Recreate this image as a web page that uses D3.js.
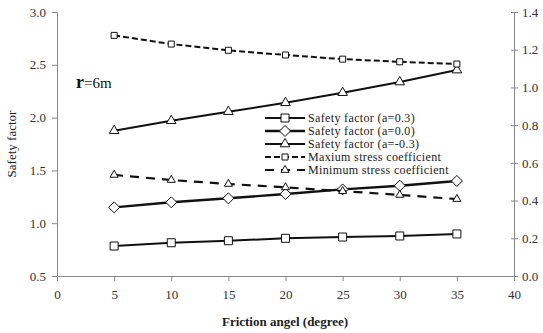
<!DOCTYPE html>
<html>
<head>
<meta charset="utf-8">
<script src="https://cdn.jsdelivr.net/npm/d3@7"></script>
<style>
  body { margin: 0; background: #fff; }
  svg text { font-family: "Liberation Serif", "DejaVu Serif", serif; }
</style>
</head>
<body>
<div id="chart"></div>
<script>
// friction angle (degree)
const angles = [5, 10, 15, 20, 25, 30, 35];

// safety factors (left axis)
const sfPos = [0.784, 0.815, 0.834, 0.857, 0.869, 0.879, 0.898];
const sfZero = [1.150, 1.198, 1.236, 1.277, 1.320, 1.355, 1.400];
const sfNeg = [1.876, 1.970, 2.056, 2.140, 2.236, 2.337, 2.450];

// stress coefficients (right axis)
const maxStress = [1.276, 1.230, 1.197, 1.172, 1.150, 1.136, 1.124];
const minStress = [0.536, 0.509, 0.488, 0.470, 0.450, 0.430, 0.408];

const xTicks = [0, 5, 10, 15, 20, 25, 30, 35, 40];
const yLeftTicks = [0.5, 1.0, 1.5, 2.0, 2.5, 3.0];
const yRightTicks = [0, 0.2, 0.4, 0.6, 0.8, 1.0, 1.2, 1.4];

const width = 543, height = 333;
const margin = { top: 12, right: 29, bottom: 57, left: 57 };

const svg = d3.select("#chart").append("svg")
  .attr("width", width)
  .attr("height", height);

const x = d3.scaleLinear().domain([0, 40]).range([margin.left, width - margin.right]);
const yL = d3.scaleLinear().domain([0.5, 3.0]).range([height - margin.bottom, margin.top]);
const yR = d3.scaleLinear().domain([0, 1.4]).range([height - margin.bottom, margin.top]);

const axisColor = "#888";

// axes
const gx = svg.append("g")
  .attr("transform", `translate(0,${height - margin.bottom})`)
  .call(d3.axisBottom(x).tickValues(xTicks).tickSize(5).tickPadding(9).tickFormat(d3.format("d")));
const gl = svg.append("g")
  .attr("transform", `translate(${margin.left},0)`)
  .call(d3.axisLeft(yL).tickValues(yLeftTicks).tickSize(5).tickPadding(6).tickFormat(d3.format(".1f")));
const gr = svg.append("g")
  .attr("transform", `translate(${width - margin.right},0)`)
  .call(d3.axisRight(yR).tickValues(yRightTicks).tickSize(4).tickPadding(4).tickFormat(d3.format(".1f")));

[gx, gl, gr].forEach(g => {
  g.select(".domain").attr("stroke", axisColor);
  g.selectAll(".tick line").attr("stroke", axisColor);
  g.selectAll(".tick text")
    .attr("fill", "#333")
    .style("font-family", "'Liberation Serif', serif")
    .style("font-size", "13px");
});
gr.selectAll(".tick line").attr("x1", -3);

// series definitions
const series = [
  { name: "Safety factor (a=0.3)", values: sfPos, y: yL, marker: "square", dash: null, width: 2 },
  { name: "Safety factor (a=0.0)", values: sfZero, y: yL, marker: "diamond", dash: null, width: 2.4 },
  { name: "Safety factor (a=-0.3)", values: sfNeg, y: yL, marker: "triangle", dash: null, width: 2 },
  { name: "Maxium stress coefficient", values: maxStress, y: yR, marker: "square", dash: "6,3", width: 2 },
  { name: "Minimum stress coefficient", values: minStress, y: yR, marker: "triangle", dash: "9,7", width: 2.2 }
];

// rhombus with equal diagonals, like the spreadsheet marker
const rhombus = r => `M0,${-r}L${r},0L0,${r}L${-r},0Z`;

const symbolOf = {
  square: d3.symbol().type(d3.symbolSquare).size(64),
  diamond: () => rhombus(5.5),
  triangle: d3.symbol().type(d3.symbolTriangle).size(40)
};
const smallSymbol = {
  square: d3.symbol().type(d3.symbolSquare).size(36),
  triangle: d3.symbol().type(d3.symbolTriangle).size(28)
};

series.forEach((s, si) => {
  const line = d3.line()
    .x((d, i) => x(angles[i]))
    .y(d => s.y(d));

  svg.append("path")
    .datum(s.values)
    .attr("fill", "none")
    .attr("stroke", "#111")
    .attr("stroke-width", s.width)
    .attr("stroke-dasharray", s.dash)
    .attr("d", line);

  const sym = (si >= 3) ? smallSymbol[s.marker] : symbolOf[s.marker];
  svg.append("g").selectAll("path")
    .data(s.values)
    .join("path")
    .attr("transform", (d, i) => `translate(${x(angles[i])},${s.y(d)})`)
    .attr("d", sym)
    .attr("fill", "#fff")
    .attr("stroke", "#111")
    .attr("stroke-width", 1);
});

// legend
const legend = svg.append("g").attr("transform", "translate(265,118)");
series.forEach((s, i) => {
  const g = legend.append("g").attr("transform", `translate(0,${i * 13})`);
  g.append("line")
    .attr("x1", 0).attr("x2", 40)
    .attr("stroke", "#111")
    .attr("stroke-width", s.width)
    .attr("stroke-dasharray", s.dash);
  const sym = (i >= 3) ? smallSymbol[s.marker] : symbolOf[s.marker];
  g.append("path")
    .attr("transform", "translate(20,0)")
    .attr("d", sym)
    .attr("fill", "#fff")
    .attr("stroke", "#111");
  g.append("text")
    .attr("x", 43)
    .attr("y", 4)
    .style("font-size", "12px")
    .style("letter-spacing", "0.35px")
    .attr("fill", "#222")
    .text(s.name);
});

// annotation
const ann = svg.append("text")
  .attr("x", 76)
  .attr("y", 88)
  .attr("fill", "#111")
  .style("font-size", "15px");
ann.append("tspan").style("font-weight", "bold").style("font-size", "18px").text("r");
ann.append("tspan").text("=6m");

// axis titles
svg.append("text")
  .attr("transform", `translate(16,${(margin.top + height - margin.bottom) / 2}) rotate(-90)`)
  .attr("text-anchor", "middle")
  .style("font-size", "13px")
  .attr("fill", "#222")
  .text("Safety factor");

svg.append("text")
  .attr("x", 285)
  .attr("y", 326)
  .attr("text-anchor", "middle")
  .style("font-size", "13px")
  .style("font-weight", "bold")
  .attr("fill", "#222")
  .text("Friction angel (degree)");
</script>
</body>
</html>
